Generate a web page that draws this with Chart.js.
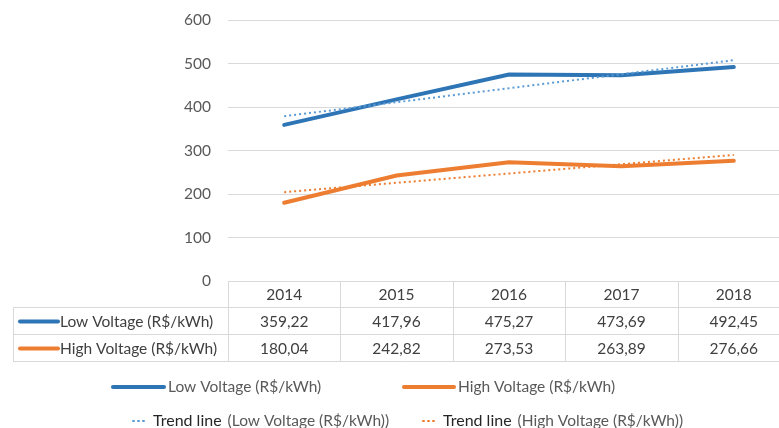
<!DOCTYPE html>
<html>
<head>
<meta charset="utf-8">
<script src="https://cdn.jsdelivr.net/npm/chart.js@4"></script>
<style>
  html, body { margin: 0; padding: 0; background: #fff; overflow: hidden; }
  #wrap { width: 779px; height: 428px; overflow: hidden; }
  #lineChart { display: block; margin-top: -6px; }
</style>
</head>
<body>
<div id="wrap"><canvas id="lineChart" width="792" height="434"></canvas></div>
<script>
// Dữ liệu
const years = ['2014', '2015', '2016', '2017', '2018'];
const lowVoltage = [359.22, 417.96, 475.27, 473.69, 492.45];
const highVoltage = [180.04, 242.82, 273.53, 263.89, 276.66];
const lowTrend = [379.3, 411.5, 443.7, 475.9, 508.2];
const highTrend = [204.5, 226.0, 247.4, 268.8, 290.2];
const yTicks = [0, 100, 200, 300, 400, 500, 600];

const lowLabel = 'Low Voltage (R$/kWh)';
const highLabel = 'High Voltage (R$/kWh)';
const trendWord = 'Trend line';

const blue = '#2e75b6';
const blueLight = '#5b9bd5';
const orange = '#ed7d31';
const gridColor = '#d9d9d9';
const fontFamily = 'Lato, "Open Sans", sans-serif';
const font = '15.5px ' + fontFamily;

function fmt(v) {
    return v.toFixed(2).replace('.', ',');
}

function hLine(ctx, x1, x2, y) {
    ctx.beginPath();
    ctx.moveTo(x1, Math.round(y) + 0.5);
    ctx.lineTo(x2, Math.round(y) + 0.5);
    ctx.stroke();
}

function vLine(ctx, x, y1, y2) {
    ctx.beginPath();
    ctx.moveTo(Math.round(x) + 0.5, y1);
    ctx.lineTo(Math.round(x) + 0.5, y2);
    ctx.stroke();
}

function sample(ctx, x1, x2, y, color, dotted) {
    ctx.save();
    ctx.strokeStyle = color;
    ctx.lineCap = 'round';
    if (dotted) {
        ctx.lineWidth = 2;
        ctx.setLineDash([1, 4]);
    } else {
        ctx.lineWidth = 4;
    }
    ctx.beginPath();
    ctx.moveTo(x1, y);
    ctx.lineTo(x2, y);
    ctx.stroke();
    ctx.restore();
}

// Plugin vẽ bảng dữ liệu và chú thích bên dưới
const tablePlugin = {
    id: 'dataTable',
    afterDraw(chart) {
        const ctx = chart.ctx;
        const area = chart.chartArea;
        const xs = chart.scales.x;
        const w = (area.right - area.left) / years.length;
        const top = area.bottom;
        const r1 = top + 26, r2 = top + 53, r3 = top + 80;
        const labelLeft = 13;

        ctx.save();
        ctx.strokeStyle = gridColor;
        ctx.lineWidth = 1;
        hLine(ctx, area.left, area.right, top);
        hLine(ctx, labelLeft, area.right, r1);
        hLine(ctx, labelLeft, area.right, r2);
        hLine(ctx, labelLeft, area.right, r3);
        vLine(ctx, labelLeft, r1, r3 + 1);
        for (let i = 0; i <= years.length; i++) {
            vLine(ctx, area.left + i * w, top, r3 + 1);
        }

        ctx.font = font;
        ctx.fillStyle = '#404040';
        ctx.textAlign = 'center';
        ctx.textBaseline = 'middle';
        years.forEach((y, i) => {
            const cx = xs.getPixelForValue(i);
            ctx.fillText(y, cx, (top + r1) / 2 + 1);
            ctx.fillText(fmt(lowVoltage[i]), cx, (r1 + r2) / 2 + 1);
            ctx.fillText(fmt(highVoltage[i]), cx, (r2 + r3) / 2 + 1);
        });

        ctx.textAlign = 'left';
        sample(ctx, 20, 58, (r1 + r2) / 2 + 1, blue, false);
        sample(ctx, 20, 58, (r2 + r3) / 2 + 1, orange, false);
        ctx.fillText(lowLabel, 60, (r1 + r2) / 2 + 1);
        ctx.fillText(highLabel, 60, (r2 + r3) / 2 + 1);

        // Chú thích (canvas dịch lên 6px)
        const l1 = top + 106, l2 = top + 140;
        ctx.fillStyle = '#595959';
        sample(ctx, 113, 164, l1, blue, false);
        ctx.fillText(lowLabel, 168, l1);
        sample(ctx, 404, 454, l1, orange, false);
        ctx.fillText(highLabel, 458, l1);

        sample(ctx, 133, 146, l2, blueLight, true);
        ctx.fillStyle = '#262626';
        ctx.font = '16px ' + fontFamily;
        ctx.fillText(trendWord, 153, l2);
        const tw = ctx.measureText(trendWord).width + 6;
        ctx.font = font;
        ctx.fillStyle = '#595959';
        ctx.fillText('(' + lowLabel + ')', 153 + tw, l2);

        sample(ctx, 423, 436, l2, orange, true);
        ctx.fillStyle = '#262626';
        ctx.font = '16px ' + fontFamily;
        ctx.fillText(trendWord, 443, l2);
        ctx.font = font;
        ctx.fillStyle = '#595959';
        ctx.fillText('(' + highLabel + ')', 443 + tw, l2);
        ctx.restore();
    }
};

const ctx = document.getElementById('lineChart').getContext('2d');
new Chart(ctx, {
    type: 'line',
    data: {
        labels: years,
        datasets: [
            {
                label: lowLabel,
                data: lowVoltage,
                borderColor: blue,
                borderWidth: 4,
                pointRadius: 0,
                borderCapStyle: 'round',
                order: 2
            },
            {
                label: highLabel,
                data: highVoltage,
                borderColor: orange,
                borderWidth: 4,
                pointRadius: 0,
                borderCapStyle: 'round',
                order: 2
            },
            {
                label: trendWord + ' (' + lowLabel + ')',
                data: lowTrend,
                borderColor: blueLight,
                borderWidth: 2,
                borderDash: [2, 3],
                pointRadius: 0,
                order: 1
            },
            {
                label: trendWord + ' (' + highLabel + ')',
                data: highTrend,
                borderColor: orange,
                borderWidth: 2,
                borderDash: [2, 3],
                pointRadius: 0,
                order: 1
            }
        ]
    },
    options: {
        responsive: false,
        animation: false,
        devicePixelRatio: 1,
        layout: {
            autoPadding: false,
            padding: { top: 14, bottom: 147, left: 0, right: 2 }
        },
        plugins: {
            legend: { display: false },
            tooltip: { enabled: false }
        },
        scales: {
            x: {
                display: false,
                offset: true
            },
            y: {
                min: 0,
                max: 600,
                afterBuildTicks: scale => {
                    scale.ticks = yTicks.map(v => ({ value: v }));
                },
                afterFit: scale => {
                    scale.width = 228;
                },
                grid: { color: gridColor, drawTicks: false },
                border: { display: false },
                ticks: {
                    color: '#595959',
                    font: { family: fontFamily, size: 15.5 },
                    padding: 17
                }
            }
        }
    },
    plugins: [tablePlugin]
});
</script>
</body>
</html>
